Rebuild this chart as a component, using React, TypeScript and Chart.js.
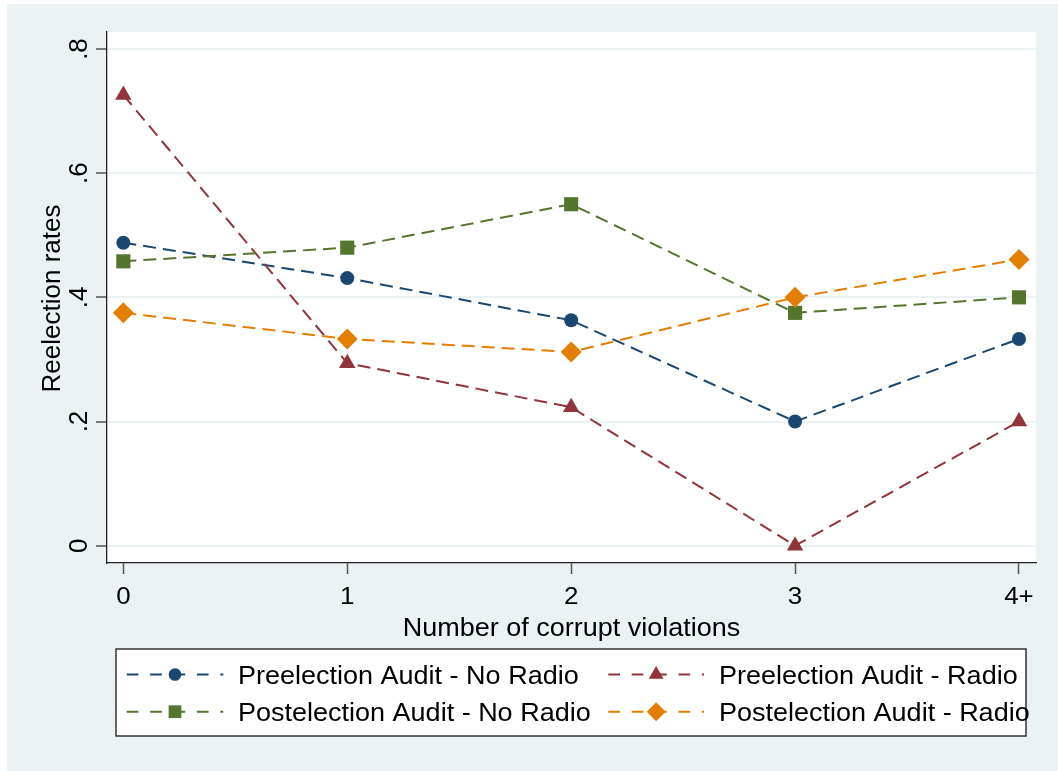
import React, { useEffect, useRef } from 'react';
import { Chart, registerables } from 'chart.js';

Chart.register(...registerables);

// ---------- data ----------
const categories = ['0', '1', '2', '3', '4+'];
const categoryPositions = [0, 1, 2, 3, 4];
const preNoRadio = [0.488, 0.431, 0.363, 0.2, 0.333];
const preRadio = [0.726, 0.294, 0.223, 0.0, 0.2];
const postNoRadio = [0.458, 0.48, 0.55, 0.375, 0.4];
const postRadio = [0.375, 0.333, 0.312, 0.4, 0.461];
const yTickValues = [0, 0.2, 0.4, 0.6, 0.8];
const yTickLabels = ['0', '.2', '.4', '.6', '.8'];
const seriesNames = [
  'Preelection Audit - No Radio',
  'Preelection Audit - Radio',
  'Postelection Audit - No Radio',
  'Postelection Audit - Radio',
];
const xTitle = 'Number of corrupt violations';
const yTitle = 'Reelection rates';

// ---------- styles ----------
const FONT = '"Liberation Sans", Arial, Helvetica, sans-serif';
const SX = 1.08;
const BG = '#EAF2F3';
const COLORS = ['#1A476F', '#90353B', '#55752F', '#E37E00'];
const POINT_STYLES = ['circle', 'triangle', 'rect', 'rectRot'];
const POINT_RADII = [7, 9.5, 10, 10.5];

function drawLabel(
  ctx: CanvasRenderingContext2D,
  s: string,
  x: number,
  y: number,
  size: number,
  align: CanvasTextAlign,
  vertical: boolean,
  sx: number
) {
  ctx.save();
  ctx.translate(x, y);
  ctx.scale(sx, 1);
  if (vertical) ctx.rotate(-Math.PI / 2);
  ctx.font = `${size}px ${FONT}`;
  ctx.fillStyle = '#000';
  ctx.textAlign = align;
  ctx.textBaseline = 'alphabetic';
  ctx.fillText(s, 0, 0);
  ctx.restore();
}

function drawMarker(ctx: CanvasRenderingContext2D, style: string, x: number, y: number, r: number, color: string) {
  ctx.save();
  ctx.fillStyle = color;
  ctx.beginPath();
  if (style === 'circle') {
    ctx.arc(x, y, r, 0, Math.PI * 2);
  } else if (style === 'rect') {
    const s = r * Math.SQRT1_2;
    ctx.rect(x - s, y - s, 2 * s, 2 * s);
  } else if (style === 'rectRot') {
    ctx.moveTo(x - r, y);
    ctx.lineTo(x, y - r);
    ctx.lineTo(x + r, y);
    ctx.lineTo(x, y + r);
    ctx.closePath();
  } else if (style === 'triangle') {
    const h = r * Math.sin(Math.PI / 3);
    ctx.moveTo(x, y - r);
    ctx.lineTo(x + h, y + r / 2);
    ctx.lineTo(x - h, y + r / 2);
    ctx.closePath();
  }
  ctx.fill();
  ctx.restore();
}

const stataPlugin = {
  id: 'stataLook',
  beforeDraw(chart: any) {
    const { ctx, chartArea: a } = chart;
    ctx.save();
    ctx.fillStyle = '#ffffff';
    ctx.fillRect(0, 0, chart.width, chart.height);
    ctx.fillStyle = BG;
    ctx.fillRect(7, 4, chart.width - 7, chart.height - 4);
    ctx.fillStyle = '#ffffff';
    ctx.fillRect(a.left, a.top, a.right - a.left, a.bottom - a.top);
    ctx.restore();
  },
  afterDraw(chart: any) {
    const ctx: CanvasRenderingContext2D = chart.ctx;
    const xs = chart.scales.x;
    const ys = chart.scales.y;
    const a = chart.chartArea;

    // y tick labels (rotated)
    yTickValues.forEach((v, i) => {
      drawLabel(ctx, yTickLabels[i], 87, ys.getPixelForValue(v), 26, 'center', true, 1);
    });
    // y title
    drawLabel(ctx, yTitle, 59.5, (a.top + a.bottom) / 2 + 1, 26, 'center', true, 1);
    // x tick labels
    categoryPositions.forEach((v, i) => {
      drawLabel(ctx, categories[i], xs.getPixelForValue(v), 604, 24, 'center', false, SX);
    });
    // x title
    drawLabel(ctx, xTitle, (a.left + a.right) / 2, 636, 25, 'center', false, SX);

    // legend box
    ctx.save();
    ctx.fillStyle = '#ffffff';
    ctx.fillRect(116, 649, 910, 87);
    ctx.strokeStyle = '#333333';
    ctx.lineWidth = 1.5;
    ctx.strokeRect(116, 649, 910, 87);
    ctx.restore();

    const cols = [{ x0: 126.7, x1: 223.3, tx: 238 }, { x0: 608.3, x1: 704, tx: 719 }];
    const rows = [{ ly: 674.5, ty: 684.3 }, { ly: 711.7, ty: 721.3 }];
    chart.data.datasets.forEach((ds: any, i: number) => {
      const col = cols[i % 2];
      const row = rows[Math.floor(i / 2)];
      ctx.save();
      ctx.strokeStyle = ds.borderColor;
      ctx.lineWidth = 2;
      ctx.setLineDash([11.7, 11.7]);
      ctx.beginPath();
      ctx.moveTo(col.x0, row.ly);
      ctx.lineTo(col.x1, row.ly);
      ctx.stroke();
      ctx.restore();
      drawMarker(ctx, ds.pointStyle, (col.x0 + col.x1) / 2, row.ly, ds.pointRadius * 0.9, ds.borderColor);
      drawLabel(ctx, ds.label, col.tx, row.ty, 25, 'left', false, SX);
    });
  },
};

const seriesValues = [preNoRadio, preRadio, postNoRadio, postRadio];

export default function App() {
  const ref = useRef<HTMLCanvasElement>(null);
  useEffect(() => {
    const canvas = ref.current;
    if (!canvas) return;
    const chart = new Chart(canvas, {
      type: 'line',
      data: {
        datasets: seriesValues.map((vals, i) => ({
          label: seriesNames[i],
          data: categoryPositions.map((x, j) => ({ x, y: vals[j] })),
          borderColor: COLORS[i],
          backgroundColor: COLORS[i],
          borderWidth: 2,
          borderDash: [13, 7],
          pointStyle: POINT_STYLES[i] as any,
          pointRadius: POINT_RADII[i],
          pointBackgroundColor: COLORS[i],
          pointBorderWidth: 0,
          tension: 0,
          fill: false,
          order: 4 - i,
        })),
      },
      options: {
        responsive: false,
        maintainAspectRatio: false,
        animation: false,
        layout: { padding: { top: 32, right: 22, bottom: 0, left: 0 } },
        plugins: { legend: { display: false }, tooltip: { enabled: false } },
        scales: {
          x: {
            type: 'linear',
            min: -0.073,
            max: 4.076,
            afterBuildTicks: (s: any) => {
              s.ticks = categoryPositions.map((v) => ({ value: v }));
            },
            afterFit: (s: any) => {
              s.height = 208;
            },
            ticks: { display: false },
            grid: { drawOnChartArea: false, drawTicks: true, tickLength: 11, tickColor: '#555', tickWidth: 1.5 },
            border: { display: true, color: '#222', width: 1.3 },
          },
          y: {
            type: 'linear',
            min: -0.0279,
            max: 0.8274,
            afterBuildTicks: (s: any) => {
              s.ticks = yTickValues.map((v) => ({ value: v }));
            },
            afterFit: (s: any) => {
              s.width = 107;
            },
            ticks: { display: false },
            grid: { color: BG, lineWidth: 2, drawTicks: true, tickLength: 11, tickColor: '#555', tickWidth: 1.5 },
            border: { display: true, color: '#222', width: 1.3 },
          },
        },
      },
      plugins: [stataPlugin],
    } as any);
    return () => chart.destroy();
  }, []);
  return (
    <div style={{ position: 'absolute', left: 0, top: 0, width: 1058, height: 771 }}>
      <canvas ref={ref} width={1058} height={771} style={{ display: 'block', width: '1058px', height: '771px' }} />
    </div>
  );
}
